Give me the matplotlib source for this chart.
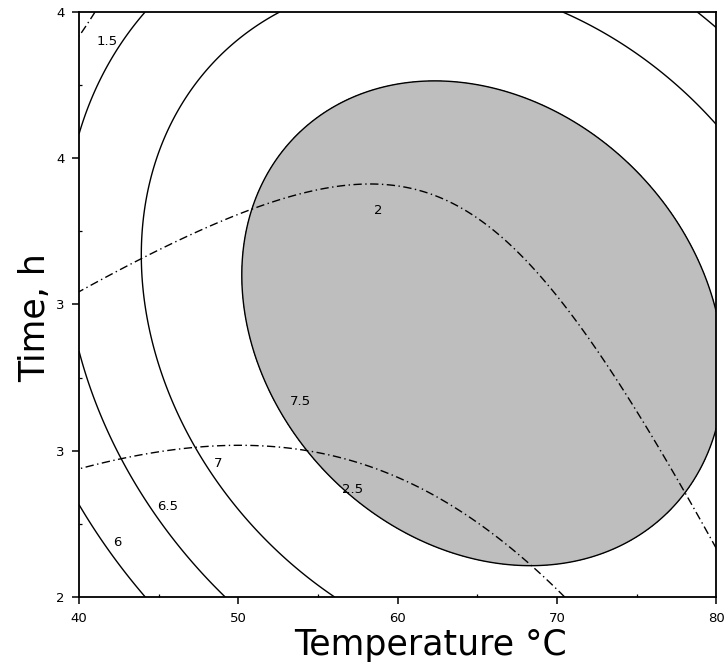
import numpy as np
import matplotlib.pyplot as plt
from matplotlib.ticker import MultipleLocator, FuncFormatter

plt.rcParams['font.family'] = ['DejaVu Sans']

## quadratic response surface models in coded units
## x1 = (T - 60)/10, x2 = (t - 3)/0.5
## terms: b0, b1, b2, b11, b22, b12
b_yield = [7.9340, 0.2305, -0.0046, -0.2258, -0.1879, -0.0819]
b_second = [2.1624, -0.0801, -0.2350, -0.0727, 0.0428, 0.0667]

yield_levels = [6, 6.5, 7, 7.5]
second_levels = [1.5, 2, 2.5]
shade_level = 7.5

## where the contour values are written (T, t)
yield_label_pos = {6: (42.4, 2.185), 6.5: (45.55, 2.31), 7: (48.75, 2.455), 7.5: (53.9, 2.667)}
second_label_pos = {1.5: (41.75, 3.90), 2: (58.8, 3.323), 2.5: (57.15, 2.369)}

temp_ticks = [40, 50, 60, 70, 80]
time_ticks = [2, 2.5, 3, 3.5, 4]


def surface(b, T, t):
    x1 = (T - 60) / 10.0
    x2 = (t - 3) / 0.5
    return b[0] + b[1]*x1 + b[2]*x2 + b[3]*x1**2 + b[4]*x2**2 + b[5]*x1*x2


T = np.linspace(40, 80, 400)
t = np.linspace(2, 4, 400)
TT, tt = np.meshgrid(T, t)
Z1 = surface(b_yield, TT, tt)
Z2 = surface(b_second, TT, tt)

fig = plt.figure(figsize=(7.25, 6.67), dpi=100)
ax = fig.add_axes([0.109, 0.105, 0.879, 0.877])

# shaded region where the first response is above 7.5
ax.contourf(TT, tt, Z1, levels=[shade_level, Z1.max() + 1], colors=['#bebebe'])
ax.contour(TT, tt, Z1, levels=yield_levels, colors='k', linewidths=1.0)
cs2 = ax.contour(TT, tt, Z2, levels=second_levels, colors='k', linewidths=1.0)
cs2.set_linestyle((0, (6, 2.5, 1, 2.5)))

for lev, (x, y) in yield_label_pos.items():
    ax.text(x, y, '%g' % lev, fontsize=9.5, ha='center', va='center')
for lev, (x, y) in second_label_pos.items():
    ax.text(x, y, '%g' % lev, fontsize=9.5, ha='center', va='center')

ax.set_xlim(40, 80)
ax.set_ylim(2, 4)
ax.set_xticks(temp_ticks)
ax.set_yticks(time_ticks)
ax.xaxis.set_minor_locator(MultipleLocator(5))
ax.yaxis.set_minor_locator(MultipleLocator(0.25))
# time labels are rounded to whole hours
ax.yaxis.set_major_formatter(FuncFormatter(lambda v, p: '%d' % int(v + 0.5)))
ax.tick_params(which='major', direction='out', length=5, width=1.1, labelsize=9.5, pad=5.5)
ax.tick_params(which='minor', direction='in', length=2.5, width=0.9)
for s in ax.spines.values():
    s.set_linewidth(1.3)

ax.set_xlabel('Temperature \u00b0C', fontsize=25, va='baseline', ha='center')
ax.set_ylabel('Time, h', fontsize=25, rotation=90, rotation_mode='anchor',
              va='baseline', ha='center')
ax.xaxis.set_label_coords(0.552, -0.099)
ax.yaxis.set_label_coords(-0.053, 0.477)

fig.savefig('out.png')
